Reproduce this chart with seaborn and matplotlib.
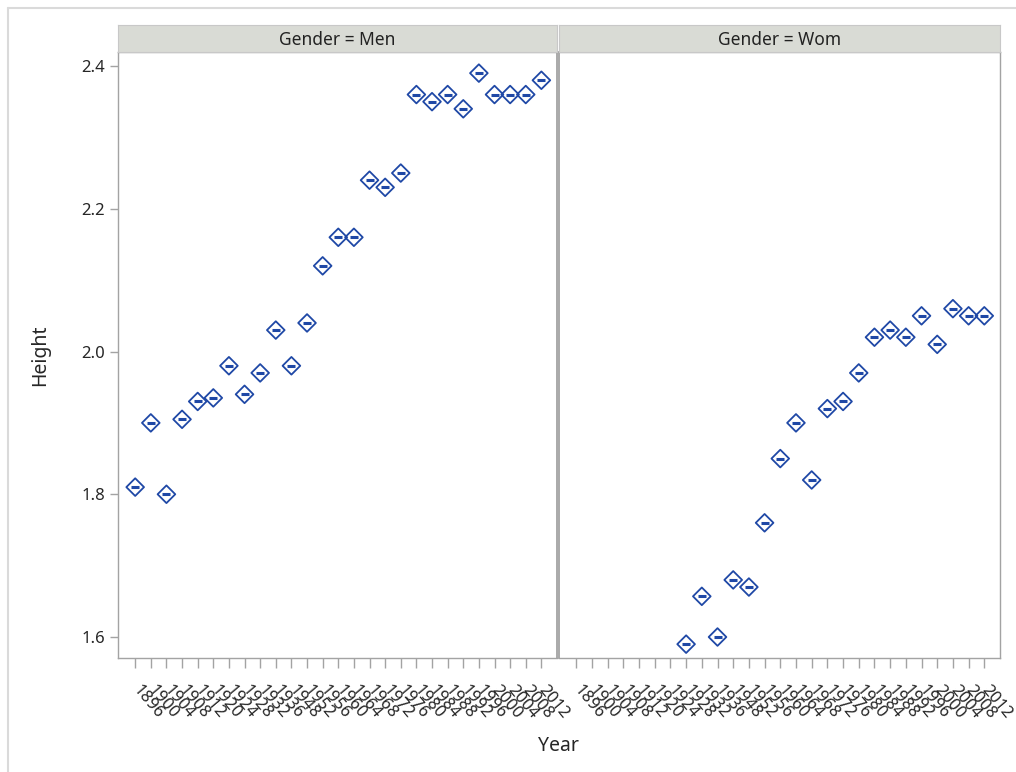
import matplotlib
matplotlib.use("Agg")
import matplotlib.pyplot as plt
from matplotlib.lines import Line2D
import numpy as np
import pandas as pd
import seaborn as sns

# olympic high jump winning heights
years = ['1896', '1900', '1904', '1908', '1912', '1920', '1924', '1928', '1932',
         '1936', '1948', '1952', '1956', '1960', '1964', '1968', '1972', '1976',
         '1980', '1984', '1988', '1992', '1996', '2000', '2004', '2008', '2012']
men = [1.81, 1.90, 1.80, 1.905, 1.93, 1.935, 1.98, 1.94, 1.97,
       2.03, 1.98, 2.04, 2.12, 2.16, 2.16, 2.24, 2.23, 2.25,
       2.36, 2.35, 2.36, 2.34, 2.39, 2.36, 2.36, 2.36, 2.38]
women = [None, None, None, None, None, None, None, 1.59, 1.657,
         1.60, 1.68, 1.67, 1.76, 1.85, 1.90, 1.82, 1.92, 1.93,
         1.97, 2.02, 2.03, 2.02, 2.05, 2.01, 2.06, 2.05, 2.05]
genders = ['Men', 'Wom']
y_ticks = [1.6, 1.8, 2.0, 2.2, 2.4]

df = pd.DataFrame({
    'Year': years * 2,
    'Height': [np.nan if v is None else v for v in men + women],
    'Gender': ['Men'] * len(years) + ['Wom'] * len(years),
})

sns.set_style("white")
plt.rcParams['font.family'] = ['Noto Sans', 'DejaVu Sans']

W, H = 1016, 772
blue = '#1f48a6'
grey = '#a3a3a3'

fig = plt.figure(figsize=(W / 100, H / 100), dpi=100)

# light frame lines at top / left of the figure
fig.add_artist(Line2D([8 / W, 1], [1 - 8 / H, 1 - 8 / H], color='#dadada', lw=1.5))
fig.add_artist(Line2D([8 / W, 8 / W], [0, 1 - 8 / H], color='#dadada', lw=1.5))

panels = [(118, 557), (559, 1000)]
top, bottom = 52, 658

for i, (g, (x0, x1)) in enumerate(zip(genders, panels)):
    ax = fig.add_axes([x0 / W, (H - bottom) / H, (x1 - x0) / W, (bottom - top) / H])
    sub = df[df['Gender'] == g]
    sns.stripplot(data=sub, x='Year', y='Height', order=years, jitter=False,
                  marker='D', size=9, facecolors='none', edgecolor=blue,
                  linewidth=1.3, ax=ax)
    sns.stripplot(data=sub, x='Year', y='Height', order=years, jitter=False,
                  marker='_', size=5.5, color=blue, linewidth=2.2, ax=ax)
    ax.set_xlim(-1.1, 27.0)
    ax.set_ylim(1.5706, 2.4196)
    ax.set_xlabel('')
    ax.set_ylabel('')
    for s in ax.spines.values():
        s.set_color(grey)
        s.set_linewidth(1.0)
    ax.tick_params(axis='x', direction='out', length=7.5, width=1, color=grey,
                   pad=14, labelsize=12, bottom=True)
    plt.setp(ax.get_xticklabels(), rotation=-50, ha='left', va='center',
             rotation_mode='anchor')
    if i == 0:
        ax.set_yticks(y_ticks)
        ax.set_yticklabels([f'{v:.1f}' for v in y_ticks])
        ax.tick_params(axis='y', direction='out', length=6, width=1, color=grey,
                       labelsize=12, left=True)
        ax.spines['right'].set_linewidth(1.3)
    else:
        ax.tick_params(axis='y', left=False, labelleft=False)
        ax.spines['left'].set_linewidth(1.3)

    # facet header
    hx = fig.add_axes([x0 / W, (H - top) / H, (x1 - x0) / W, 27 / H])
    hx.set_facecolor('#d9dbd5')
    hx.set_xticks([])
    hx.set_yticks([])
    for s in hx.spines.values():
        s.set_color('#c8c8c8')
    hx.text(0.5, 0.45, f'Gender = {g}', ha='center', va='center',
            fontsize=12.5, color='#222222', transform=hx.transAxes)

fig.text(558 / W, 1 - 746 / H, 'Year', ha='center', va='center', fontsize=14)
fig.text(40 / W, 1 - 355 / H, 'Height', ha='center', va='center', fontsize=14,
         rotation=90)

fig.savefig('out.png', dpi=100)
